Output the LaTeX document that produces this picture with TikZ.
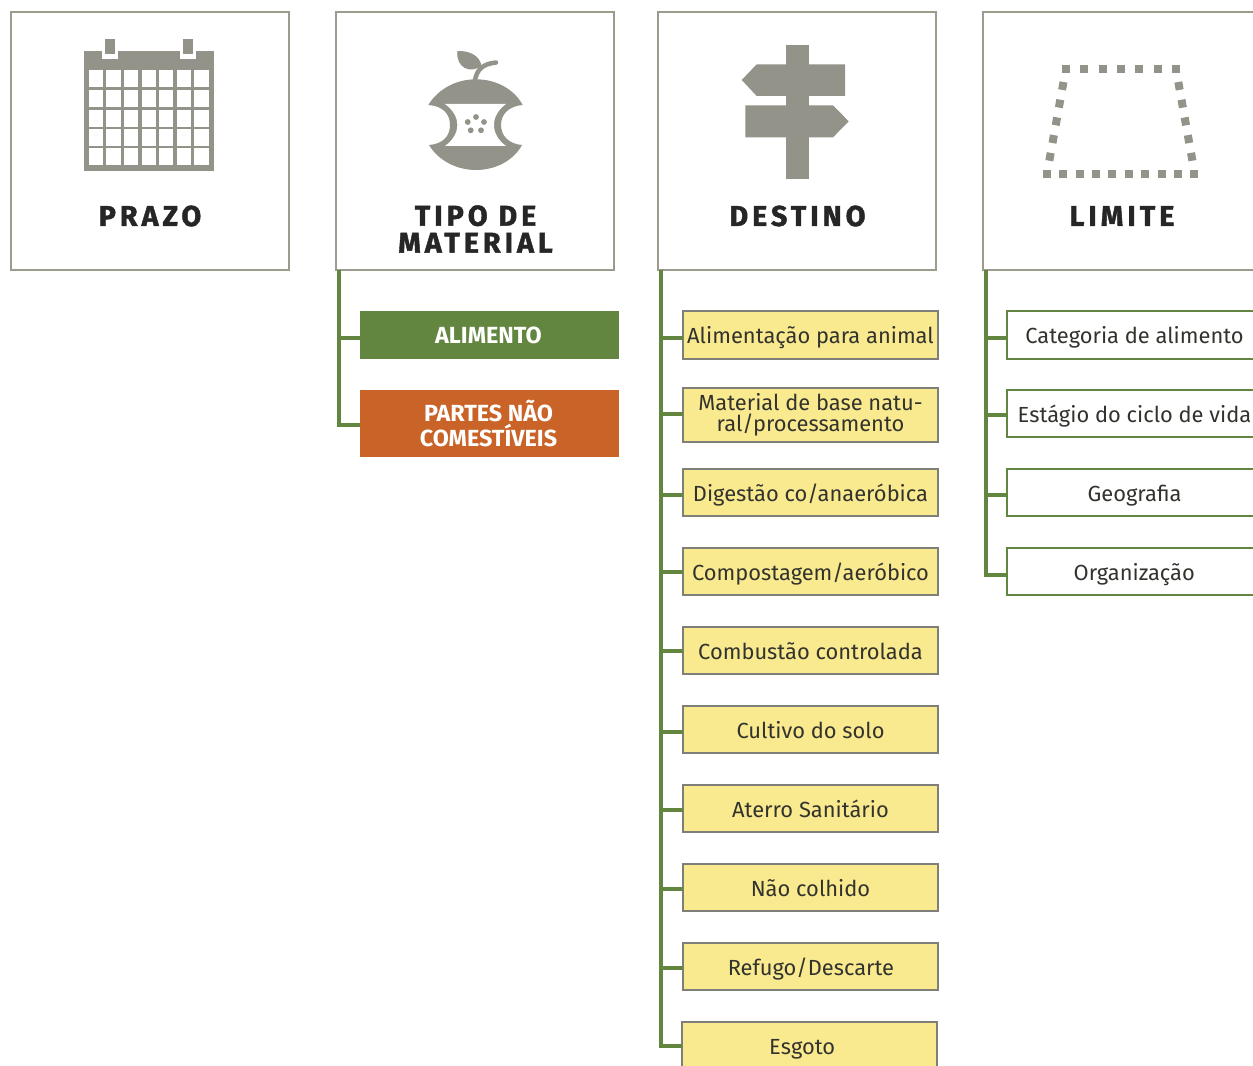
\documentclass[tikz,border=0pt]{standalone}
\usepackage{fontspec}
\setmainfont{Fira Sans}
\usetikzlibrary{calc}
\definecolor{iconGray}{HTML}{93938A}
\definecolor{headGray}{HTML}{9C9C8E}
\definecolor{itemGray}{HTML}{7F7F7A}
\definecolor{treeGreen}{HTML}{62863F}
\definecolor{partOrange}{HTML}{C96327}
\definecolor{itemYellow}{HTML}{F9E98F}
\definecolor{textDark}{HTML}{33332E}
\newfontfamily\headface{Fira Sans}[LetterSpace=14, BoldFeatures={FakeBold=1.5}]
\newcommand{\headfont}{\fontsize{21.5}{20.25}\headface\bfseries}
\tikzset{
	head/.style={draw=headGray, line width=1.5pt, fill=white, minimum width=208.5pt, minimum height=193.5pt, inner sep=0pt, outer sep=0pt},
	headlabel/.style={font=\headfont, text=black!85, align=center, inner sep=0pt},
	branch/.style={draw=treeGreen, line width=3pt},
	part/.style={minimum width=194.25pt, inner sep=0pt, outer sep=0pt, text=white, align=center, font=\fontsize{17.5}{16}\selectfont\bfseries},
	item/.style={minimum width=191.5pt, minimum height=35.25pt, inner sep=0pt, outer sep=0pt, text=textDark, align=center, text height=13.5pt, text depth=0pt, font=\fontsize{16.4}{15.75}\selectfont},
	yellowitem/.style={item, draw=itemGray, line width=1.5pt, fill=itemYellow},
	whiteitem/.style={item, draw=treeGreen, line width=1.5pt, fill=white}
}
\begin{document}
\begin{tikzpicture}[x=0.75pt, y=-0.75pt]
		\useasboundingbox (0, 0) rectangle (1253, 1066);
		\clip (0, 0) rectangle (1253, 1066);
		
		%%%%% HEADERS %%%%%
		\node[head] (prazo) at (150, 141) {};
		\node[head] (tipo) at (475, 141) {};
		\node[head] (destino) at (797, 141) {};
		\node[head] (limite) at (1122, 141) {};
		
		\node[headlabel] (prazolabel) at (150, 216) {PRAZO};
		\node[headlabel] (tipolabel) at (475.5, 229) {TIPO DE\\MATERIAL};
		\node[headlabel] (destinolabel) at (797.5, 216) {DESTINO};
		\node[headlabel] (limitelabel) at (1122, 216) {LIMITE};
		
		%%%%% CALENDAR %%%%%
		\fill[iconGray] (83.5, 51) rectangle (214, 171.5);
		\fill[white] (101.7, 45) rectangle (117.7, 59.3);
		\fill[white] (180, 45) rectangle (196, 59.3);
		\fill[iconGray] (105, 39.5) rectangle (115, 54);
		\fill[iconGray] (183, 39.5) rectangle (192.7, 54);
		\foreach \cx in {89, 106.3, 124, 141.7, 159, 176.7, 194.3}
			\foreach \cy in {70, 90.3, 110, 129.3, 148.3}
				\fill[white] (\cx, \cy) rectangle ++(14.3, 17);
		
		%%%%% APPLE %%%%%
		\fill[iconGray] (428.3, 105) .. controls (438, 89) and (456, 79.3) .. (476, 79.3)
			.. controls (496, 79.3) and (514, 89) .. (522.7, 105)
			.. controls (509, 106) and (501, 114) .. (501, 125)
			.. controls (501, 136) and (509, 144) .. (522, 145)
			.. controls (514, 160) and (496, 170) .. (476, 170)
			.. controls (456, 170) and (438, 160) .. (429, 145)
			.. controls (443, 144) and (450, 136) .. (450, 125)
			.. controls (450, 114) and (443, 106) .. (428.3, 105) -- cycle;
		\fill[white] (445, 104) -- (506, 104)
			.. controls (498, 110) and (494, 117) .. (494, 125)
			.. controls (494, 133) and (498, 140) .. (506, 146)
			-- (445, 146)
			.. controls (453, 140) and (457.3, 133) .. (457.3, 125)
			.. controls (457.3, 117) and (453, 110) .. (445, 104) -- cycle;
		\foreach \sx/\sy in {476/117, 467.7/122, 484/122, 470.7/130.3, 481/130.3}
			\fill[iconGray] (\sx, \sy) circle (2.9);
		\draw[iconGray, line width=3.4pt, line cap=round] (475, 80) .. controls (477, 70) and (482, 64) .. (496, 62.5);
		\fill[iconGray] (457.3, 51) .. controls (470, 50.5) and (480, 56) .. (481.5, 66)
			.. controls (470, 74) and (456, 68) .. (457.3, 51) -- cycle;
		
		%%%%% SIGNPOST %%%%%
		\fill[iconGray] (786, 45) rectangle (809, 179);
		\fill[iconGray] (741.7, 80) -- (756.7, 64.3) -- (845, 64.3) -- (845, 96) -- (756.7, 96) -- cycle;
		\fill[iconGray] (745.3, 105.3) -- (833, 105.3) -- (848.7, 121.3) -- (833, 137.3) -- (745.3, 137.3) -- cycle;
		
		%%%%% TRAPEZOID %%%%%
		\draw[iconGray, line width=6pt, dash pattern=on 6pt off 7.75pt] (1062, 68.7) -- (1180, 68.7);
		\draw[iconGray, line width=6pt, dash pattern=on 6pt off 6.3pt] (1042.7, 174) -- (1199, 174);
		\draw[iconGray, line width=6pt, dash pattern=on 6pt off 7.5pt] (1063.5, 82) -- (1049.3, 160.7);
		\draw[iconGray, line width=6pt, dash pattern=on 6pt off 7.5pt] (1178.3, 82) -- (1192.4, 160.7);
		
		%%%%% TIPO DE MATERIAL %%%%%
		\node[part, fill=treeGreen, minimum height=36pt] (alimento) at (489.5, 335) {\hspace{-1.5pt}ALIMENTO};
		\node[part, fill=partOrange, minimum height=50.25pt] (partes) at (489.5, 423.5) {\hspace{-1.5pt}PARTES NÃO\\\hspace{-1.5pt}COMESTÍVEIS};
		\draw[branch] ([xshift=2.25pt]tipo.south west) |- ($(alimento.west)+(0, 3)$);
		\draw[branch] ([xshift=2.25pt]tipo.south west) |- ($(partes.west)+(0, 1.5)$);
		
		%%%%% DESTINO %%%%%
		\foreach \id/\yc/\dy/\lbl in {
			a/335/3/{Alimentação para animal},
			c/492.5/2.5/{Digestão co/anaeróbica},
			d/571.5/0.5/{Compostagem/aeróbico},
			e/650.5/0.5/{Combustão controlada},
			f/729.5/2.5/{Cultivo do solo},
			g/808.5/1.5/{Aterro Sanitário},
			h/887.5/1.5/{Não colhido},
			i/966.5/1.5/{\hspace{5pt}Refugo/Descarte}
		}{
			\node[yellowitem] (dest\id) at (810.5, \yc) {\lbl};
			\draw[branch] ([xshift=2.25pt]destino.south west) |- ($(dest\id.west)+(0, \dy)$);
		}
		\node[yellowitem, minimum height=40.5pt, text height=, text depth=] (destb) at (810.5, 415) {\rule{0pt}{12.5pt}Material de base natu-\\ral/processamento};
		\draw[branch] ([xshift=2.25pt]destino.south west) |- ($(destb.west)+(0, -1)$);
		\node[yellowitem] (destj) at (809.5, 1045.5) {Esgoto\hspace{11pt}};
		\draw[branch] ([xshift=2.25pt]destino.south west) |- (destj.west);
		
		%%%%% LIMITE %%%%%
		\foreach \id/\yc/\dy/\lbl in {
			a/335/3/{Categoria de alimento},
			b/413.5/1.5/{Estágio do ciclo de vida},
			c/492.5/2.5/{Geografia},
			d/571.5/3.5/{\hspace{4pt}Organização}
		}{
			\node[whiteitem] (lim\id) at (1134.5, \yc) {\lbl};
			\draw[branch] ([xshift=2.25pt]limite.south west) |- ($(lim\id.west)+(0, \dy)$);
		}
	\end{tikzpicture}
\end{document}
